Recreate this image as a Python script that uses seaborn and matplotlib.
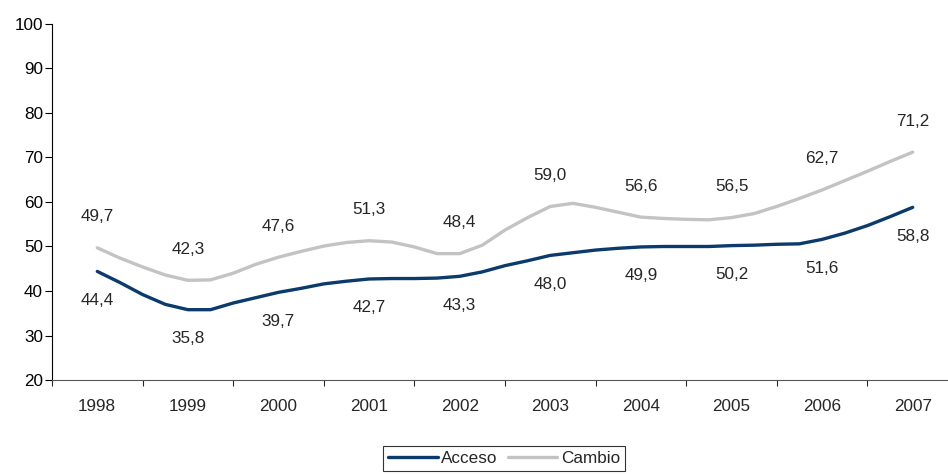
import numpy as np
import pandas as pd
import matplotlib
matplotlib.use("Agg")
import matplotlib.pyplot as plt
from matplotlib.lines import Line2D
import seaborn as sns

# annual values shown as labels
anios = [1998, 1999, 2000, 2001, 2002, 2003, 2004, 2005, 2006, 2007]
acceso_anual = [44.4, 35.8, 39.7, 42.7, 43.3, 48.0, 49.9, 50.2, 51.6, 58.8]
cambio_anual = [49.7, 42.3, 47.6, 51.3, 48.4, 59.0, 56.6, 56.5, 62.7, 71.2]

# the drawn lines (quarterly steps)
periodo = [1998.0, 1998.25, 1998.5, 1998.75, 1999.0, 1999.25, 1999.5, 1999.75,
           2000.0, 2000.25, 2000.5, 2000.75, 2001.0, 2001.25, 2001.5, 2001.75,
           2002.0, 2002.25, 2002.5, 2002.75, 2003.0, 2003.25, 2003.5, 2003.75,
           2004.0, 2004.25, 2004.5, 2004.75, 2005.0, 2005.25, 2005.5, 2005.75,
           2006.0, 2006.25, 2006.5, 2006.75, 2007.0]
acceso = [44.4, 41.9, 39.2, 37.0, 35.8, 35.8, 37.3, 38.5,
          39.7, 40.6, 41.6, 42.2, 42.7, 42.8, 42.8, 42.9,
          43.3, 44.3, 45.7, 46.8, 48.0, 48.6, 49.2, 49.6,
          49.9, 50.0, 50.0, 50.0, 50.2, 50.3, 50.5, 50.6,
          51.6, 53.0, 54.7, 56.7, 58.8]
cambio = [49.7, 47.4, 45.4, 43.6, 42.4, 42.5, 44.0, 46.0,
          47.6, 48.9, 50.1, 50.9, 51.3, 51.0, 49.9, 48.4,
          48.4, 50.3, 53.7, 56.5, 59.0, 59.7, 58.8, 57.7,
          56.6, 56.3, 56.1, 56.0, 56.5, 57.4, 59.0, 60.8,
          62.7, 64.8, 66.9, 69.1, 71.2]

series = ["Acceso", "Cambio"]
colores = {"Acceso": "#0b3a6b", "Cambio": "#c3c3c3"}

df = pd.DataFrame({
    "periodo": periodo * 2,
    "valor": acceso + cambio,
    "serie": ["Acceso"] * len(acceso) + ["Cambio"] * len(cambio),
})

sns.set_style("white")
plt.rcParams["font.family"] = ["Liberation Sans", "DejaVu Sans"]
fs = 12.3

fig = plt.figure(figsize=(9.48, 4.74), dpi=100)
ax = fig.add_axes([52 / 948, 94 / 474, 906 / 948, 356 / 474])

sns.lineplot(data=df, x="periodo", y="valor", hue="serie", hue_order=series,
             palette=colores, linewidth=2.4, sort=False, ax=ax)

# value labels
for x, v in zip(anios, cambio_anual):
    ax.annotate(f"{v:.1f}".replace(".", ","), (x, v), xytext=(0, 31),
                textcoords="offset pixels", ha="center", va="center", fontsize=fs)
for x, v in zip(anios, acceso_anual):
    ax.annotate(f"{v:.1f}".replace(".", ","), (x, v), xytext=(0, -29),
                textcoords="offset pixels", ha="center", va="center", fontsize=fs)

ax.set_xlim(1997.5, 2007.5)
ax.set_ylim(20, 100)
ax.set_yticks(np.arange(20, 101, 10))
ax.tick_params(axis="y", left=True, length=5, width=0.8, pad=1.5, labelsize=fs,
               colors="black")

# category boundaries as ticks, year labels in between
ax.set_xticks([a - 0.5 for a in anios])
ax.set_xticklabels([])
ax.set_xticks(anios, minor=True)
ax.set_xticklabels([str(a) for a in anios], minor=True)
ax.tick_params(axis="x", which="major", bottom=True, length=4.5, width=0.8)
ax.tick_params(axis="x", which="minor", bottom=False, length=0, pad=13.5,
               labelsize=fs)

for s in ["top", "right"]:
    ax.spines[s].set_visible(False)
ax.spines["left"].set_color("black")
ax.spines["bottom"].set_color("#555555")
ax.spines["left"].set_linewidth(0.8)
ax.spines["bottom"].set_linewidth(0.8)
ax.set_xlabel("")
ax.set_ylabel("")
ax.grid(False)

ax.get_legend().remove()
handles = [Line2D([0], [0], color=colores[s], linewidth=2.4) for s in series]
leg = fig.legend(handles, series, loc="upper center",
                 bbox_to_anchor=(504 / 948, 28 / 474), ncol=2, fontsize=fs,
                 frameon=True, fancybox=False, edgecolor="black",
                 handlelength=2.9, handletextpad=0.2, columnspacing=0.6,
                 borderpad=0.3, borderaxespad=0)
leg.get_frame().set_linewidth(0.8)

fig.savefig("out.png", dpi=100)
